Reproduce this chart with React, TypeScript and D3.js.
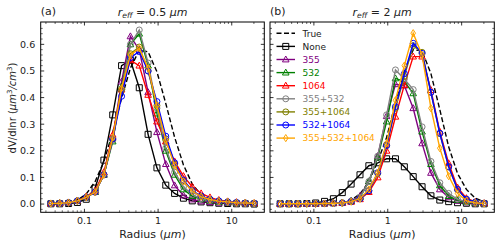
import React from "react";
import * as d3 from "d3";

// Radius grid (µm)
const radius = [0.035, 0.0461, 0.0608, 0.0802, 0.1057, 0.1394, 0.1837, 0.2422, 0.3193, 0.4209, 0.5549, 0.7315, 0.9643, 1.2713, 1.676, 2.209, 2.913, 3.84, 5.062, 6.673, 8.797, 11.6, 15.29, 20.15];

// Panel (a): r_eff = 0.5 µm
const aTrue = [0, 0.002, 0.005, 0.015, 0.038, 0.084, 0.16, 0.27, 0.397, 0.511, 0.578, 0.572, 0.497, 0.378, 0.251, 0.147, 0.075, 0.034, 0.013, 0.005, 0.002, 0.001, 0, 0];
const aNone = [0.001, 0.001, 0.002, 0.006, 0.018, 0.06, 0.165, 0.335, 0.52, 0.54, 0.437, 0.262, 0.136, 0.071, 0.04, 0.022, 0.012, 0.008, 0.005, 0.003, 0.002, 0.001, 0.001, 0];
const a355 = [0.002, 0.003, 0.005, 0.012, 0.025, 0.045, 0.11, 0.25, 0.46, 0.63, 0.58, 0.42, 0.27, 0.15, 0.07, 0.032, 0.017, 0.01, 0.007, 0.005, 0.004, 0.003, 0.002, 0.002];
const a532 = [0.002, 0.003, 0.005, 0.012, 0.025, 0.045, 0.11, 0.235, 0.44, 0.6, 0.64, 0.52, 0.34, 0.2, 0.11, 0.055, 0.03, 0.018, 0.012, 0.008, 0.006, 0.004, 0.003, 0.002];
const a1064 = [0.002, 0.003, 0.006, 0.013, 0.028, 0.05, 0.12, 0.26, 0.43, 0.54, 0.52, 0.41, 0.31, 0.235, 0.16, 0.105, 0.065, 0.04, 0.025, 0.015, 0.01, 0.007, 0.005, 0.003];
const a355_532 = [0.002, 0.003, 0.005, 0.012, 0.025, 0.045, 0.11, 0.24, 0.43, 0.6, 0.654, 0.53, 0.36, 0.21, 0.12, 0.065, 0.035, 0.02, 0.013, 0.009, 0.006, 0.004, 0.003, 0.002];
const a355_1064 = [0.002, 0.003, 0.005, 0.012, 0.025, 0.045, 0.11, 0.245, 0.43, 0.565, 0.59, 0.5, 0.37, 0.245, 0.15, 0.088, 0.05, 0.028, 0.017, 0.011, 0.008, 0.005, 0.004, 0.003];
const a532_1064 = [0.002, 0.003, 0.005, 0.012, 0.025, 0.045, 0.11, 0.245, 0.405, 0.55, 0.573, 0.5, 0.385, 0.255, 0.155, 0.09, 0.05, 0.03, 0.018, 0.012, 0.008, 0.006, 0.004, 0.003];
const a355_532_1064 = [0.002, 0.003, 0.005, 0.012, 0.025, 0.045, 0.11, 0.25, 0.435, 0.56, 0.585, 0.51, 0.37, 0.24, 0.145, 0.085, 0.048, 0.028, 0.017, 0.011, 0.008, 0.005, 0.004, 0.003];

// Panel (b): r_eff = 2 µm
const bTrue = [0, 0, 0, 0, 0, 0, 0.002, 0.005, 0.015, 0.038, 0.084, 0.16, 0.25, 0.38, 0.5, 0.58, 0.575, 0.49, 0.355, 0.215, 0.115, 0.055, 0.022, 0.008];
const bNone = [0.001, 0.001, 0.001, 0.002, 0.004, 0.01, 0.02, 0.043, 0.075, 0.11, 0.144, 0.155, 0.17, 0.17, 0.14, 0.103, 0.065, 0.031, 0.015, 0.009, 0.005, 0.003, 0.001, 0.001];
const b355 = [0.001, 0.001, 0.001, 0.001, 0.001, 0.002, 0.003, 0.005, 0.012, 0.03, 0.085, 0.18, 0.33, 0.45, 0.445, 0.36, 0.228, 0.117, 0.055, 0.025, 0.012, 0.006, 0.003, 0.002];
const b532 = [0.001, 0.001, 0.001, 0.001, 0.001, 0.002, 0.003, 0.005, 0.011, 0.025, 0.085, 0.175, 0.31, 0.472, 0.46, 0.416, 0.272, 0.15, 0.07, 0.03, 0.015, 0.007, 0.004, 0.002];
const b1064 = [0.001, 0.001, 0.001, 0.001, 0.001, 0.002, 0.003, 0.004, 0.008, 0.018, 0.045, 0.1, 0.2, 0.328, 0.447, 0.554, 0.554, 0.428, 0.272, 0.153, 0.062, 0.022, 0.008, 0.003];
const b355_532 = [0.001, 0.001, 0.001, 0.001, 0.001, 0.002, 0.003, 0.005, 0.011, 0.025, 0.085, 0.18, 0.335, 0.504, 0.47, 0.43, 0.29, 0.16, 0.08, 0.04, 0.018, 0.008, 0.004, 0.002];
const b355_1064 = [0.001, 0.001, 0.001, 0.001, 0.001, 0.002, 0.003, 0.004, 0.009, 0.02, 0.05, 0.115, 0.22, 0.36, 0.48, 0.595, 0.57, 0.42, 0.265, 0.14, 0.055, 0.018, 0.007, 0.003];
const b532_1064 = [0.001, 0.001, 0.001, 0.001, 0.001, 0.002, 0.003, 0.004, 0.009, 0.02, 0.05, 0.118, 0.22, 0.366, 0.49, 0.604, 0.566, 0.42, 0.266, 0.14, 0.055, 0.018, 0.007, 0.003];
const b355_532_1064 = [0.001, 0.001, 0.001, 0.001, 0.001, 0.002, 0.003, 0.004, 0.009, 0.02, 0.055, 0.118, 0.228, 0.39, 0.52, 0.642, 0.56, 0.36, 0.21, 0.105, 0.04, 0.012, 0.005, 0.002];

const seriesNames = ["True", "None", "355", "532", "1064", "355+532", "355+1064", "532+1064", "355+532+1064"];
const seriesColors = ["#000000", "#000000", "#800080", "#008000", "#ff0000", "#808080", "#808000", "#0000ff", "#ffa500"];
const seriesMarkers = ["none", "square", "triangle", "triangle", "triangle", "circle", "circle", "circle", "thin_diamond"];
const panelAData = [aTrue, aNone, a355, a532, a1064, a355_532, a355_1064, a532_1064, a355_532_1064];
const panelBData = [bTrue, bNone, b355, b532, b1064, b355_532, b355_1064, b532_1064, b355_532_1064];

const xTickVals = [0.1, 1, 10];
const xTickLabels = ["0.1", "1", "10"];
const yTickVals = [0, 0.1, 0.2, 0.3, 0.4, 0.5, 0.6];
const yTickLabels = ["0.0", "0.1", "0.2", "0.3", "0.4", "0.5", "0.6"];

const FONT = "DejaVu Sans, sans-serif";
const W = 500;
const H = 246;
const TOP = 22;
const BOTTOM = 212.3;

function markerPath(type: string, x: number, y: number): string {
  const s = 3;
  if (type === "square") return `M${x - s},${y - s}h${2 * s}v${2 * s}h${-2 * s}Z`;
  if (type === "triangle") return `M${x},${y - 3.5}L${x + 3.3},${y + 2.4}L${x - 3.3},${y + 2.4}Z`;
  if (type === "thin_diamond") return `M${x},${y - 3.6}L${x + 2.3},${y}L${x},${y + 3.6}L${x - 2.3},${y}Z`;
  return "";
}

function Marker({ type, x, y, color }: { type: string; x: number; y: number; color: string }) {
  if (type === "none") return null;
  if (type === "circle") return <circle cx={x} cy={y} r={3} fill="none" stroke={color} strokeWidth={1} />;
  return <path d={markerPath(type, x, y)} fill="none" stroke={color} strokeWidth={1} />;
}

function Panel({ x0, x1, data, showYLabels, letter, titleVal, legend }: any) {
  const x = d3.scaleLog().domain([0.02547, 27.67]).range([x0, x1]);
  const y = d3.scaleLinear().domain([-0.031, 0.684]).range([BOTTOM, TOP]);
  const line = d3.line<number>().x((_, i) => x(radius[i])).y((d) => y(d));
  const minorX: number[] = [];
  for (const dec of [0.01, 0.1, 1, 10]) {
    for (let k = 2; k <= 9; k++) {
      const v = dec * k;
      if (v > 0.02547 && v < 27.67) minorX.push(v);
    }
  }
  const minorY: number[] = [];
  for (let v = -0.02; v <= 0.68; v += 0.02) {
    const r = Math.round(v * 100) / 100;
    if (Math.abs(r * 10 - Math.round(r * 10)) > 1e-6) minorY.push(r);
  }
  const cx = (x0 + x1) / 2;
  return (
    <g>
      <g>
        {data.map((vals: number[], si: number) => (
          <g key={si}>
            <path
              d={line(vals) || ""}
              fill="none"
              stroke={seriesColors[si]}
              strokeWidth={1.4}
              strokeDasharray={si === 0 ? "5,2.5" : undefined}
            />
            {vals.map((v, i) => (
              <Marker key={i} type={seriesMarkers[si]} x={x(radius[i])} y={y(v)} color={seriesColors[si]} />
            ))}
          </g>
        ))}
      </g>
      <rect x={x0} y={TOP} width={x1 - x0} height={BOTTOM - TOP} fill="none" stroke="#000" strokeWidth={1} />
      {xTickVals.map((v, i) => (
        <g key={"xt" + i}>
          <line x1={x(v)} x2={x(v)} y1={BOTTOM} y2={BOTTOM - 3.5} stroke="#000" strokeWidth={0.8} />
          <line x1={x(v)} x2={x(v)} y1={TOP} y2={TOP + 3.5} stroke="#000" strokeWidth={0.8} />
          <text x={x(v)} y={223.5} fontSize={9.5} fontFamily={FONT} textAnchor="middle" fill="#222">
            {xTickLabels[i]}
          </text>
        </g>
      ))}
      {minorX.map((v, i) => (
        <g key={"xm" + i}>
          <line x1={x(v)} x2={x(v)} y1={BOTTOM} y2={BOTTOM - 2} stroke="#000" strokeWidth={0.6} />
          <line x1={x(v)} x2={x(v)} y1={TOP} y2={TOP + 2} stroke="#000" strokeWidth={0.6} />
        </g>
      ))}
      {yTickVals.map((v, i) => (
        <g key={"yt" + i}>
          <line x1={x0} x2={x0 + 3.5} y1={y(v)} y2={y(v)} stroke="#000" strokeWidth={0.8} />
          <line x1={x1} x2={x1 - 3.5} y1={y(v)} y2={y(v)} stroke="#000" strokeWidth={0.8} />
          {showYLabels && (
            <text x={x0 - 5.5} y={y(v) + 3.4} fontSize={9.5} fontFamily={FONT} textAnchor="end" fill="#222">
              {yTickLabels[i]}
            </text>
          )}
        </g>
      ))}
      {minorY.map((v, i) => (
        <g key={"ym" + i}>
          <line x1={x0} x2={x0 + 2} y1={y(v)} y2={y(v)} stroke="#000" strokeWidth={0.6} />
          <line x1={x1} x2={x1 - 2} y1={y(v)} y2={y(v)} stroke="#000" strokeWidth={0.6} />
        </g>
      ))}
      <text x={x0} y={15} fontSize={11} fontFamily={FONT} fill="#222">{letter}</text>
      <text x={cx} y={15.5} fontSize={11} fontFamily={FONT} textAnchor="middle" fill="#222">
        <tspan fontStyle="italic">r</tspan>
        <tspan fontStyle="italic" fontSize={7.7} dy={2.5}>eff</tspan>
        <tspan dy={-2.5}> = {titleVal} </tspan>
        <tspan fontStyle="italic">μm</tspan>
      </text>
      <text x={cx} y={238} fontSize={11} fontFamily={FONT} textAnchor="middle" fill="#222">
        Radius (<tspan fontStyle="italic">μm</tspan>)
      </text>
      {legend &&
        seriesNames.map((name, si) => {
          const ly = 33.3 + si * 13.1;
          return (
            <g key={"lg" + si}>
              <line
                x1={x0 + 6.5}
                x2={x0 + 25}
                y1={ly}
                y2={ly}
                stroke={seriesColors[si]}
                strokeWidth={1.4}
                strokeDasharray={si === 0 ? "5,2.5" : undefined}
              />
              <Marker type={seriesMarkers[si]} x={x0 + 15.75} y={ly} color={seriesColors[si]} />
              <text x={x0 + 32.5} y={ly + 3.3} fontSize={9} fontFamily={FONT} fill={si < 2 ? "#222" : seriesColors[si]}>
                {name}
              </text>
            </g>
          );
        })}
    </g>
  );
}

export default function App() {
  return (
    <svg width={W} height={H} style={{ display: "block", position: "absolute", left: 0, top: 0, background: "#fff" }}>
      <rect x={0} y={0} width={W} height={H} fill="#fff" />
      <Panel x0={40.7} x1={264.3} data={panelAData} showYLabels={true} letter="(a)" titleVal="0.5" legend={false} />
      <Panel x0={270} x1={494.3} data={panelBData} showYLabels={false} letter="(b)" titleVal="2" legend={true} />
      <text transform="translate(16,108) rotate(-90)" fontSize={10} fontFamily={FONT} textAnchor="middle" fill="#222">
        dV/dlnr (<tspan fontStyle="italic">μm</tspan>
        <tspan fontSize={7} dy={-3.6}>3</tspan>
        <tspan dy={3.6} fontStyle="italic">/cm</tspan>
        <tspan fontSize={7} dy={-3.6}>3</tspan>
        <tspan dy={3.6}>)</tspan>
      </text>
    </svg>
  );
}
